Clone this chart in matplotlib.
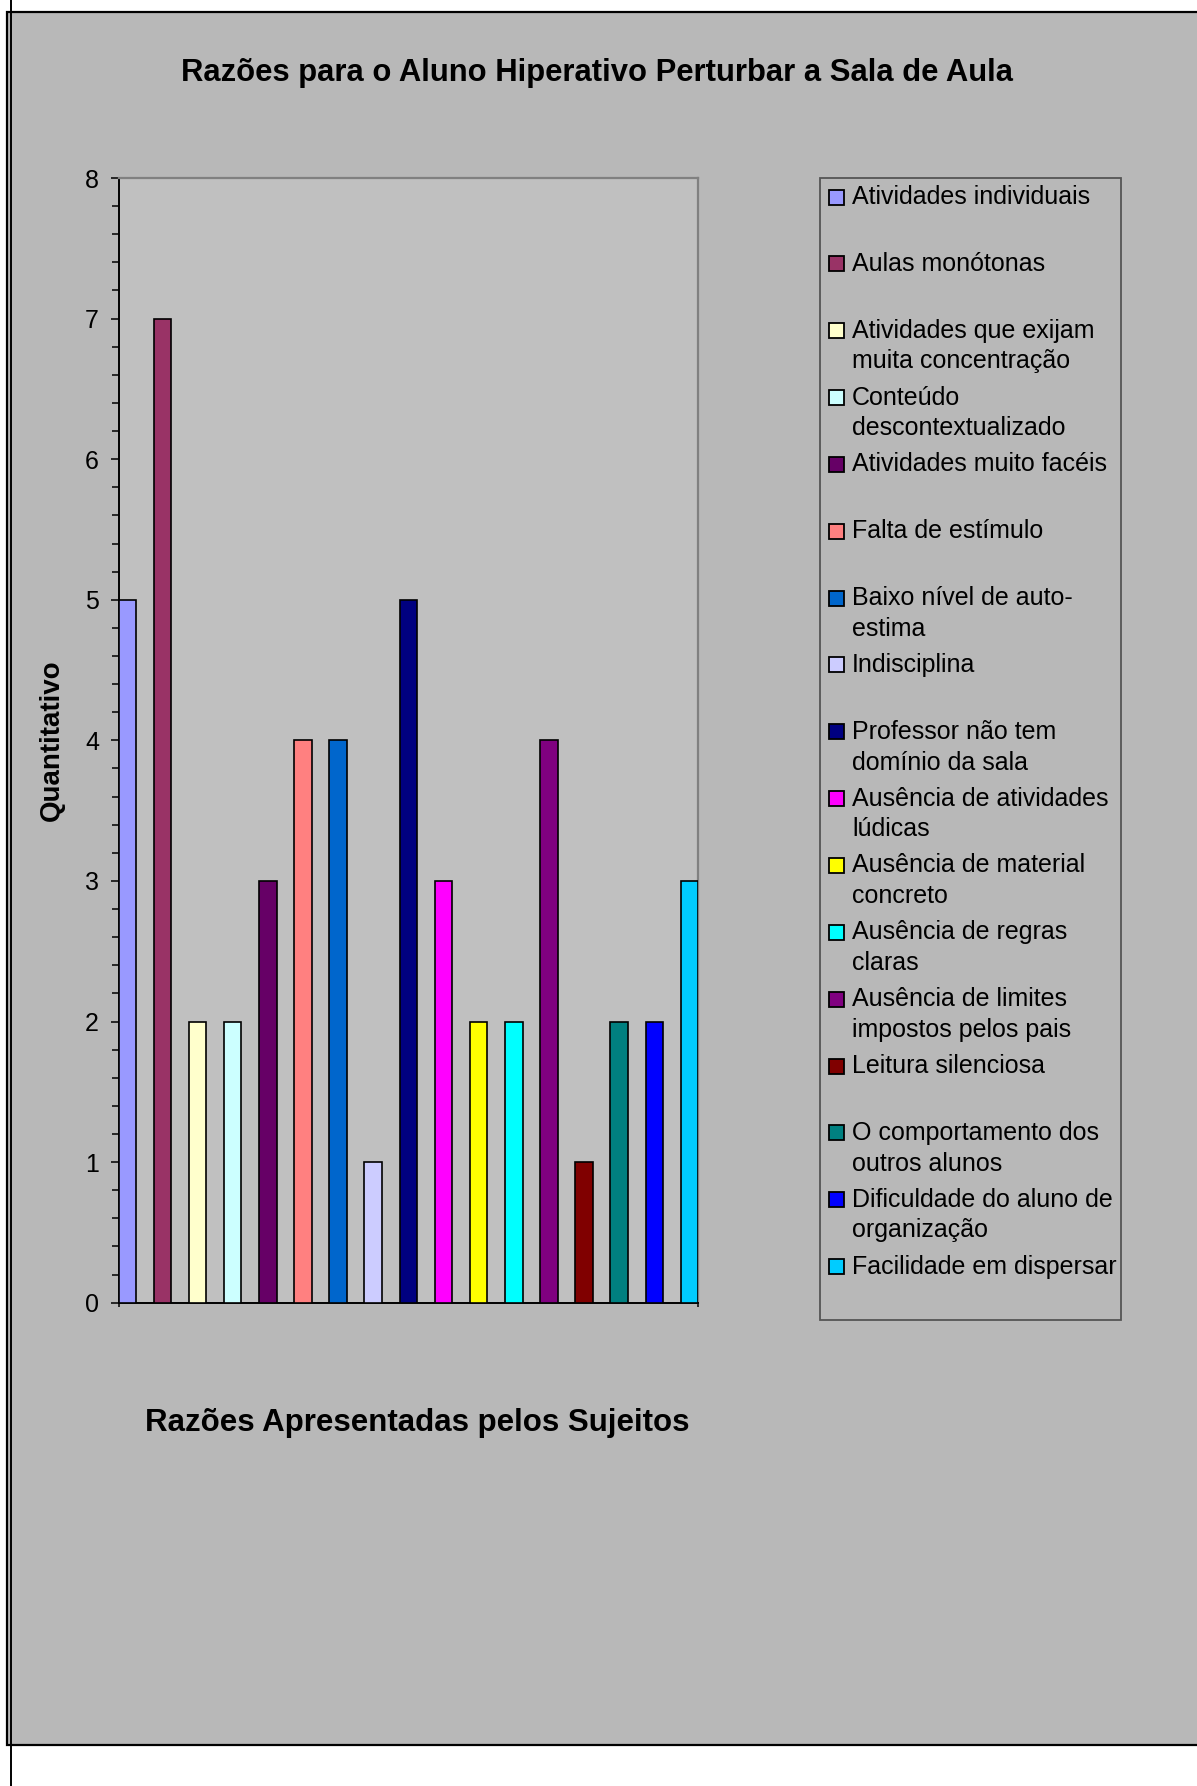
import matplotlib
matplotlib.use("Agg")
import matplotlib.pyplot as plt
from matplotlib.patches import Rectangle
from matplotlib.lines import Line2D
from matplotlib.ticker import MultipleLocator, NullFormatter

plt.rcParams["font.family"] = ["Liberation Sans", "DejaVu Sans"]

# data
labels = [
    "Atividades individuais",
    "Aulas monótonas",
    "Atividades que exijam\nmuita concentração",
    "Conteúdo\ndescontextualizado",
    "Atividades muito facéis",
    "Falta de estímulo",
    "Baixo nível de auto-\nestima",
    "Indisciplina",
    "Professor não tem\ndomínio da sala",
    "Ausência de atividades\nlúdicas",
    "Ausência de material\nconcreto",
    "Ausência de regras\nclaras",
    "Ausência de limites\nimpostos pelos pais",
    "Leitura silenciosa",
    "O comportamento dos\noutros alunos",
    "Dificuldade do aluno de\norganização",
    "Facilidade em dispersar",
]
values = [5, 7, 2, 2, 3, 4, 4, 1, 5, 3, 2, 2, 4, 1, 2, 2, 3]
colors = ["#9999FF", "#993366", "#FFFFCC", "#CCFFFF", "#660066", "#FF8080",
          "#0066CC", "#CCCCFF", "#000080", "#FF00FF", "#FFFF00", "#00FFFF",
          "#800080", "#800000", "#008080", "#0000FF", "#00CCFF"]

title = "Razões para o Aluno Hiperativo Perturbar a Sala de Aula"
xlabel = "Razões Apresentadas pelos Sujeitos"
ylabel = "Quantitativo"

W, H = 1197, 1786
fig = plt.figure(figsize=(W / 100, H / 100), dpi=100)
fig.patch.set_facecolor("white")

# grey chart frame + page line
fig.patches.append(Rectangle((7 / W, 1 - 1745 / H), 1.5, (1745 - 12) / H,
                             transform=fig.transFigure, fc="#B8B8B8",
                             ec="black", lw=1.6, zorder=-10))
fig.lines.append(Line2D([11 / W, 11 / W], [0, 1], transform=fig.transFigure,
                        color="black", lw=1.4, zorder=-5))

# main axes (pixel box 118.5..698.3 x 178..1302.7)
ax = fig.add_axes([118.5 / W, 1 - 1302.7 / H, (698.3 - 118.5) / W,
                   (1302.7 - 178) / H])
ax.set_facecolor("#C0C0C0")
x = list(range(len(values)))
ax.bar(x, values, width=0.5, color=colors, edgecolor="black", linewidth=1.2,
       zorder=3)
ax.set_xlim(-0.25, len(values) - 0.75)
ax.set_ylim(0, 8)
ax.yaxis.set_major_locator(MultipleLocator(1))
ax.yaxis.set_minor_locator(MultipleLocator(0.2))
ax.yaxis.set_minor_formatter(NullFormatter())
ax.tick_params(axis="y", which="major", direction="out", length=6, width=1.1,
               pad=8, labelsize=18, colors="black")
ax.tick_params(axis="y", which="minor", direction="out", length=5, width=1.1)
ax.set_xticks([-0.25, len(values) - 0.75])
ax.set_xticklabels([])
ax.tick_params(axis="x", direction="out", length=3, width=1.1)
for s in ("left", "bottom"):
    ax.spines[s].set_color("black")
    ax.spines[s].set_linewidth(1.4)
for s in ("top", "right"):
    ax.spines[s].set_color("#808080")
    ax.spines[s].set_linewidth(1.6)

# titles
fig.text(597 / W, 1 - 73 / H, title, ha="center", va="center",
         fontsize=22.3, fontweight="bold")
fig.text(417 / W, 1 - 1423 / H, xlabel, ha="center", va="center",
         fontsize=22.5, fontweight="bold")
fig.text(52 / W, 1 - 740 / H, ylabel, ha="center", va="center",
         rotation=90, fontsize=20, fontweight="bold")

# legend box drawn in its own pixel-space axes
lx0, lx1, ly0, ly1 = 820, 1121, 177.5, 1320
lg = fig.add_axes([lx0 / W, 1 - ly1 / H, (lx1 - lx0) / W, (ly1 - ly0) / H])
lg.set_xlim(0, lx1 - lx0)
lg.set_ylim(ly1 - ly0, 0)
lg.axis("off")
lg.add_patch(Rectangle((0, 0), lx1 - lx0, ly1 - ly0, fc="#B8B8B8",
                       ec="#555555", lw=1.3, clip_on=False))
step = 66.85
for i, (lab, col) in enumerate(zip(labels, colors)):
    yc = 17.5 + step * i
    lg.add_patch(Rectangle((9, yc - 5.5), 15, 15, fc=col, ec="black", lw=1.3))
    for j, line in enumerate(lab.split("\n")):
        lg.text(32, yc + 9 + 30.75 * j, line, fontsize=18, va="baseline",
                ha="left")

fig.savefig("out.png", dpi=100)
